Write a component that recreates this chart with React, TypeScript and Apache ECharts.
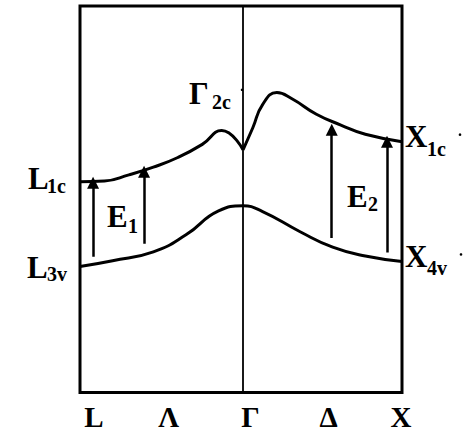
import React, { useEffect, useRef } from "react";
import * as echarts from "echarts";

// Positions along the path L – Γ – X (Γ at 1) and energies in arbitrary units.
const K_L = 0;
const K_GAMMA = 1;
const K_X = 1.975;

// Lowest conduction band, L → Γ
const conductionLG: [number, number][] = [
  [0, 5.45], [0.15, 5.47], [0.3, 5.63], [0.45, 5.83], [0.6, 6.08],
  [0.75, 6.42], [0.869, 6.78], [1.0, 6.28],
];

// Lowest conduction band, Γ → X
const conductionGX: [number, number][] = [
  [1.0, 6.28], [1.06, 6.85], [1.12, 7.45], [1.207, 7.76],
  [1.3, 7.6], [1.45, 7.2], [1.6, 6.92], [1.75, 6.68],
  [1.975, 6.49],
];

// Top valence band, L → Γ → X
const valence: [number, number][] = [
  [0, 3.26], [0.2, 3.41], [0.45, 3.64], [0.65, 4.08],
  [0.85, 4.7], [1.0, 4.83], [1.12, 4.68],
  [1.35, 4.16], [1.55, 3.76], [1.75, 3.53],
  [1.975, 3.39],
];

// Optical transitions: [k, from, to]
const transitions: [number, number, number][] = [
  [0.08, 3.51, 5.43],
  [0.393, 3.85, 5.71],
  [1.544, 4.0, 6.8],
  [1.883, 3.62, 6.49],
];

// Symmetry points / lines along the horizontal axis
const pathNames = ["L", "Λ", "Γ", "Δ", "X"];
const pathLabelAt = [0.086, 0.543, 1.046, 1.525, 1.969];

const FONT = "'Liberation Serif', 'Times New Roman', serif";

type Label = {
  main: string;
  sub: string;
  at: [number, number];
  dx: number;
  dy: number;
  subDx: number;
  subDy: number;
  mark?: [number, number];
};

const bandLabels: Label[] = [
  { main: "L", sub: "1c", at: [K_L, conductionLG[0][1]], dx: -52, dy: -3, subDx: -33, subDy: 4.5 },
  { main: "L", sub: "3v", at: [K_L, valence[0][1]], dx: -53, dy: 0.5, subDx: -33, subDy: 7.5 },
  { main: "Γ", sub: "2c", at: [K_GAMMA, conductionGX[0][1]], dx: -54, dy: -56, subDx: -31, subDy: -47.5, mark: [-1, -60] },
  { main: "X", sub: "1c", at: [K_X, conductionGX[conductionGX.length - 1][1]], dx: 3, dy: -5, subDx: 25, subDy: 7.5, mark: [58, -7] },
  { main: "X", sub: "4v", at: [K_X, valence[valence.length - 1][1]], dx: 3, dy: -4.5, subDx: 25, subDy: 6.5, mark: [59, -7] },
  { main: "E", sub: "1", at: [0.166, 4.56], dx: 0, dy: 0, subDx: 21, subDy: 9.5 },
  { main: "E", sub: "2", at: [1.638, 5.06], dx: 0, dy: 0, subDx: 21, subDy: 7.5 },
];

const bandStyle = { color: "#000", width: 3 };

export default function App() {
  const ref = useRef<HTMLDivElement>(null);

  useEffect(() => {
    if (!ref.current) return;
    const chart = echarts.init(ref.current, undefined, { renderer: "svg" });

    const band = (data: [number, number][], extra: any = {}) => ({
      type: "line",
      data,
      smooth: 0.5,
      symbol: "none",
      lineStyle: { ...bandStyle },
      silent: true,
      ...extra,
    });

    chart.setOption({
      animation: false,
      backgroundColor: "#fff",
      grid: {
        left: 80,
        right: 73,
        top: 6,
        bottom: 38,
        show: true,
        borderColor: "#000",
        borderWidth: 3,
        backgroundColor: "transparent",
      },
      xAxis: {
        type: "value",
        min: K_L,
        max: K_X,
        axisLine: { show: false },
        axisTick: { show: false },
        splitLine: { show: false },
        axisLabel: {
          customValues: pathLabelAt,
          formatter: (v: number) => {
            let best = 0;
            pathLabelAt.forEach((p, i) => {
              if (Math.abs(p - v) < Math.abs(pathLabelAt[best] - v)) best = i;
            });
            return pathNames[best];
          },
          color: "#000",
          fontFamily: FONT,
          fontWeight: "bold",
          fontSize: 29,
          margin: 24,
          verticalAlign: "middle",
        },
      },
      yAxis: {
        type: "value",
        min: 0,
        max: 10,
        axisLine: { show: false },
        axisTick: { show: false },
        splitLine: { show: false },
        axisLabel: { show: false },
      },
      series: [
        band(conductionLG, {
          markLine: {
            silent: true,
            symbol: "none",
            label: { show: false },
            lineStyle: { type: "solid", color: "#000", width: 1.8 },
            data: [{ xAxis: K_GAMMA }],
          },
        }),
        band(conductionGX),
        band(valence),
        {
          type: "lines",
          coordinateSystem: "cartesian2d",
          silent: true,
          symbol: ["none", "triangle"],
          symbolSize: [8, 12],
          lineStyle: { color: "#000", width: 2.5, opacity: 1 },
          data: transitions.map(([k, a, b]) => ({ coords: [[k, a], [k, b]] })),
        },
      ],
    });

    const graphic: any[] = [];
    bandLabels.forEach((l) => {
      const [px, py] = chart.convertToPixel({ gridIndex: 0 }, l.at) as number[];
      graphic.push({
        type: "text",
        x: px + l.dx,
        y: py + l.dy,
        silent: true,
        style: {
          text: l.main,
          fill: "#000",
          font: `bold 31px ${FONT}`,
          textAlign: "left",
          textVerticalAlign: "middle",
        },
      });
      graphic.push({
        type: "text",
        x: px + l.subDx,
        y: py + l.subDy,
        silent: true,
        style: {
          text: l.sub,
          fill: "#000",
          font: `bold 20px ${FONT}`,
          textAlign: "left",
          textVerticalAlign: "middle",
        },
      });
      if (l.mark) {
        graphic.push({
          type: "circle",
          silent: true,
          shape: { cx: px + l.mark[0], cy: py + l.mark[1], r: 1.3 },
          style: { fill: "#000" },
        });
      }
    });
    chart.setOption({ graphic });

    return () => chart.dispose();
  }, []);

  return (
    <div
      ref={ref}
      style={{ position: "fixed", left: 0, top: 0, width: 475, height: 431, background: "#fff" }}
    />
  );
}
